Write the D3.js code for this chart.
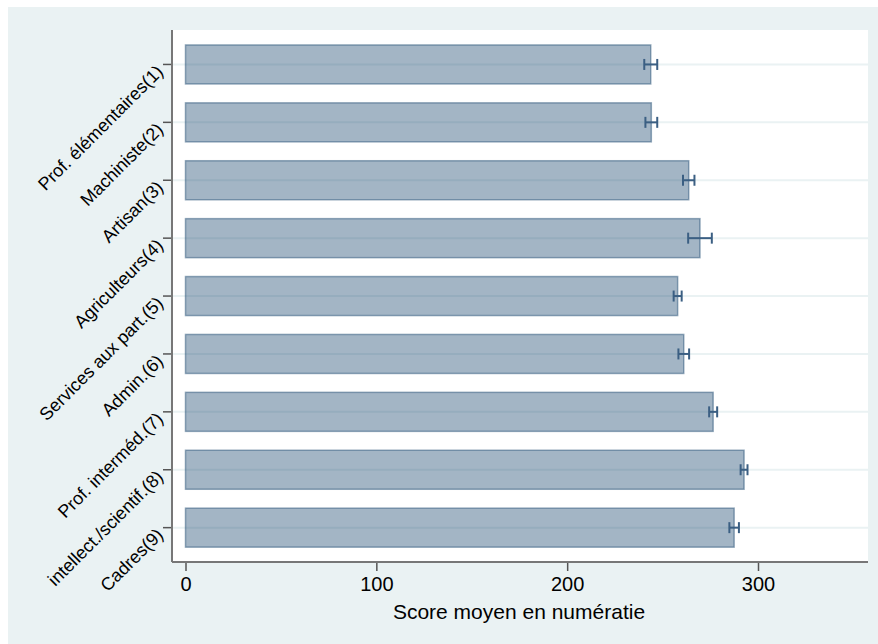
<!DOCTYPE html>
<html>
<head>
<meta charset="utf-8">
<script src="https://cdn.jsdelivr.net/npm/d3@7"></script>
<style>
  html, body { margin: 0; padding: 0; background: #ffffff; }
  svg { display: block; font-family: "Liberation Sans", Arial, sans-serif; }
</style>
</head>
<body>
<svg id="chart" width="878" height="644"></svg>
<script>
const categories = [
  "Prof. élémentaires(1)",
  "Machiniste(2)",
  "Artisan(3)",
  "Agriculteurs(4)",
  "Services aux part.(5)",
  "Admin.(6)",
  "Prof. interméd.(7)",
  "intellect./scientif.(8)",
  "Cadres(9)"
];
const meanScores = [243.8, 244.1, 263.7, 269.6, 257.9, 261.1, 276.5, 292.7, 287.5];
const ciHalfWidth = [3.4, 3.1, 3.0, 6.2, 2.1, 2.8, 2.1, 1.8, 2.5];
const xTicks = [0, 100, 200, 300];
const xTitle = "Score moyen en numératie";

const svg = d3.select("#chart");

// outer background
svg.append("rect").attr("x", 8).attr("y", 7).attr("width", 870).attr("height", 637)
  .attr("fill", "#eaf2f3");

const plot = { left: 172, right: 868, top: 30, bottom: 562 };

const x = d3.scaleLinear().domain([0, 300]).range([185.5, 758]);
const y = d3.scaleBand().domain(categories)
  .range([35.5, 556.6]).paddingInner(0.326).paddingOuter(0.163);

// plot region
svg.append("rect").attr("x", plot.left).attr("y", plot.top)
  .attr("width", plot.right - plot.left).attr("height", plot.bottom - plot.top)
  .attr("fill", "#ffffff");

// gridlines
svg.append("g").selectAll("line").data(categories).join("line")
  .attr("x1", plot.left).attr("x2", plot.right)
  .attr("y1", d => y(d) + y.bandwidth() / 2).attr("y2", d => y(d) + y.bandwidth() / 2)
  .attr("stroke", "#eaf2f3").attr("stroke-width", 2);

// bars
svg.append("g").selectAll("rect").data(meanScores).join("rect")
  .attr("x", x(0))
  .attr("y", (d, i) => y(categories[i]))
  .attr("width", d => x(d) - x(0))
  .attr("height", y.bandwidth())
  .attr("fill", "#1a476f").attr("fill-opacity", 0.4)
  .attr("stroke", "#1a476f").attr("stroke-opacity", 0.45).attr("stroke-width", 1.5);

// error bars
const eb = svg.append("g").attr("stroke", "#3b5f83").attr("stroke-width", 2);
meanScores.forEach((m, i) => {
  const cy = y(categories[i]) + y.bandwidth() / 2;
  const lo = x(m - ciHalfWidth[i]), hi = x(m + ciHalfWidth[i]);
  eb.append("line").attr("x1", lo).attr("x2", hi).attr("y1", cy).attr("y2", cy);
  eb.append("line").attr("x1", lo).attr("x2", lo).attr("y1", cy - 5.5).attr("y2", cy + 5.5);
  eb.append("line").attr("x1", hi).attr("x2", hi).attr("y1", cy - 5.5).attr("y2", cy + 5.5);
});

// x axis
const xAxis = svg.append("g").attr("transform", `translate(0,${plot.bottom})`)
  .call(d3.axisBottom(x).tickValues(xTicks).tickSize(9).tickPadding(6).tickFormat(d3.format("d")));
xAxis.select(".domain").remove();
xAxis.selectAll(".tick line").attr("stroke", "#555").attr("stroke-width", 1.5);
xAxis.selectAll(".tick text").attr("font-size", 20).attr("fill", "#000")
  .attr("font-family", "'Liberation Sans', Arial, sans-serif");
svg.append("line").attr("x1", plot.left).attr("x2", plot.right)
  .attr("y1", plot.bottom).attr("y2", plot.bottom)
  .attr("stroke", "#777").attr("stroke-width", 2);

// y axis
const yAxis = svg.append("g").attr("transform", `translate(${plot.left},0)`)
  .call(d3.axisLeft(y).tickSize(9).tickPadding(4));
yAxis.select(".domain").remove();
yAxis.selectAll(".tick line").attr("stroke", "#555").attr("stroke-width", 1.5);
yAxis.selectAll(".tick text")
  .attr("font-size", 18).attr("fill", "#000")
  .attr("font-family", "'Liberation Sans', Arial, sans-serif")
  .attr("text-anchor", "end")
  .attr("x", null).attr("dy", null)
  .attr("dominant-baseline", "central")
  .attr("transform", "translate(-12,4) rotate(-45)");
svg.append("line").attr("x1", plot.left).attr("x2", plot.left)
  .attr("y1", plot.top).attr("y2", plot.bottom)
  .attr("stroke", "#777").attr("stroke-width", 2);

// x title
svg.append("text").attr("x", 519).attr("y", 619)
  .attr("text-anchor", "middle").attr("font-size", 21).attr("fill", "#000")
  .text(xTitle);
</script>
</body>
</html>
